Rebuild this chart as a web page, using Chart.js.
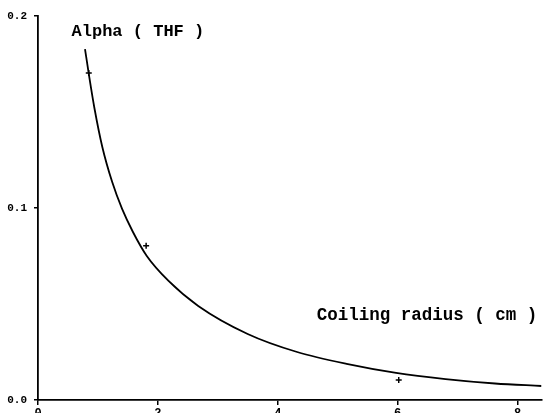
<!DOCTYPE html>
<html>
<head>
<meta charset="utf-8">
<script src="https://cdn.jsdelivr.net/npm/chart.js@4"></script>
<style>
  html, body { margin: 0; padding: 0; background: #fff; overflow: hidden; }
  #wrap { width: 547px; height: 430px; }
</style>
</head>
<body>
<div id="wrap"><canvas id="graphAlpha"></canvas></div>
<script>
// fitted curve
const curveRadius = [0.784, 0.850, 0.941, 1.073, 1.238, 1.403, 1.584, 1.815, 2.178, 2.673, 3.498, 4.323, 5.149, 5.974, 6.799, 7.624, 8.40];
const curveAlpha  = [0.1828, 0.1693, 0.1521, 0.1318, 0.1135, 0.0995, 0.0875, 0.0750, 0.0620, 0.0490, 0.0344, 0.0250, 0.0188, 0.0141, 0.0109, 0.0086, 0.0073];
// measured points
const measRadius = [0.847, 1.804, 6.018];
const measAlpha  = [0.1703, 0.0804, 0.0104];
const xTicks = [0, 2, 4, 6, 8];
const yTicks = [0.0, 0.1, 0.2];

const labels = {
    id: 'labels',
    afterDraw(chart) {
        const ctx = chart.ctx, x = chart.scales.x, y = chart.scales.y;
        ctx.save();
        ctx.fillStyle = '#000';
        ctx.font = 'bold 17px "Liberation Mono"';
        ctx.textBaseline = 'middle';
        ctx.fillText('Alpha ( THF )', x.getPixelForValue(0.56), y.getPixelForValue(0.192));
        ctx.font = 'bold 17.5px "Liberation Mono"';
        ctx.fillText('Coiling radius ( cm )', x.getPixelForValue(4.65), y.getPixelForValue(0.044));
        ctx.restore();
    }
};

const chart = new Chart(document.getElementById('graphAlpha'), {
    type: 'scatter',
    data: {
        datasets: [{
            data: curveRadius.map((r, i) => ({x: r, y: curveAlpha[i]})),
            showLine: true,
            borderColor: '#000',
            borderWidth: 1.8,
            pointRadius: 0,
            cubicInterpolationMode: 'monotone'
        }, {
            data: measRadius.map((r, i) => ({x: r, y: measAlpha[i]})),
            pointStyle: 'cross',
            pointRadius: 3,
            borderColor: '#000',
            borderWidth: 1.5
        }]
    },
    options: {
        responsive: true,
        maintainAspectRatio: false,
        animation: false,
        layout: { padding: { top: 16, left: 0, right: 0, bottom: 0 } },
        plugins: {
            legend: { display: false },
            tooltip: { enabled: false }
        },
        scales: {
            x: {
                type: 'linear',
                min: 0,
                max: 8.4,
                afterBuildTicks: s => { s.ticks = xTicks.map(v => ({value: v})); },
                afterFit: s => { s.height = 30; },
                grid: { drawOnChartArea: false, color: '#000', tickLength: 5, lineWidth: 1.5 },
                border: { color: '#000', width: 1.8 },
                ticks: { color: '#000', font: { family: 'Liberation Mono', weight: 'bold', size: 12 }, padding: 2 }
            },
            y: {
                min: 0,
                max: 0.2,
                afterBuildTicks: s => { s.ticks = yTicks.map(v => ({value: v})); },
                afterFit: s => { s.width = 38; },
                grid: { drawOnChartArea: false, color: '#000', tickLength: 4, lineWidth: 1.5 },
                border: { color: '#000', width: 1.8 },
                ticks: {
                    color: '#000',
                    font: { family: 'Liberation Mono', weight: 'bold', size: 11 },
                    padding: 7,
                    callback: v => v.toFixed(1)
                }
            }
        }
    },
    plugins: [labels]
});
</script>
</body>
</html>
